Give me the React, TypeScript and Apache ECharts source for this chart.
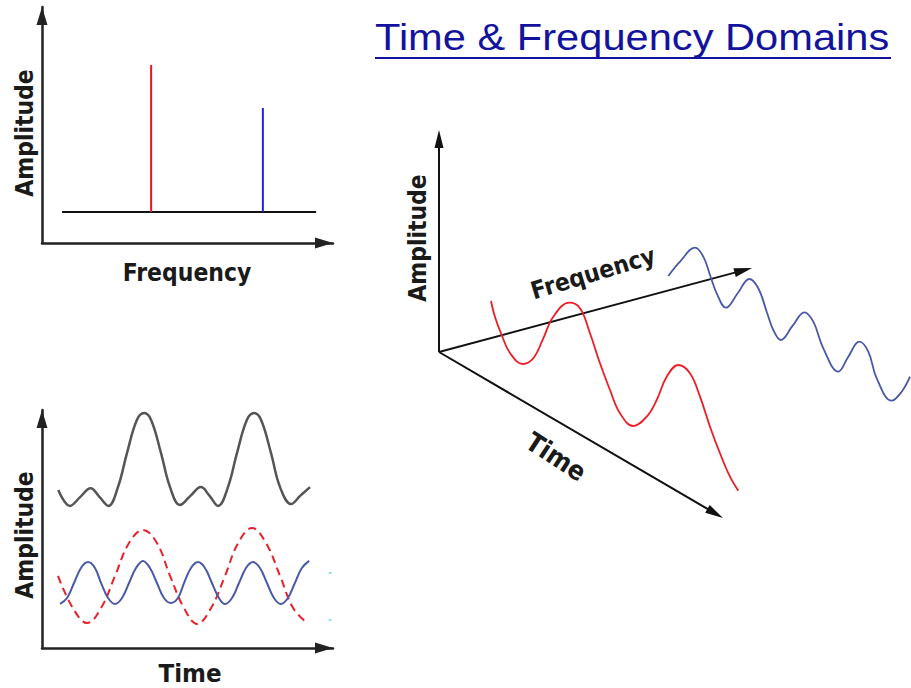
import React, { useEffect, useRef } from "react";
import * as echarts from "echarts";

// ---------- texts ----------
const TITLE = "Time & Frequency Domains";
const LABEL_AMPLITUDE = "Amplitude";
const LABEL_FREQUENCY = "Frequency";
const LABEL_TIME = "Time";

// ---------- panel 1: spectrum (frequency domain) ----------
const spectrumFreq = [3.75, 7.59];
const spectrumAmp = [7.54, 5.72];
const spectrumColors = ["#e8161e", "#2222e0"];
const baselineLevel = 1.31;
const baselineFreqRange = [0.69, 9.42];

// ---------- panel 2: time domain ----------
const sumTime = [0.56, 0.96, 1.31, 1.67, 1.98, 2.28, 2.61, 2.92, 3.26, 3.51, 3.75, 4.09, 4.4, 4.74, 5.1, 5.46, 5.76, 6.05, 6.39, 6.7, 7.04, 7.29, 7.53, 7.87, 8.18, 8.56, 8.87, 9.21];
const sumAmp = [6.64, 5.97, 6.34, 6.71, 6.34, 5.97, 6.76, 8.19, 9.58, 9.87, 9.58, 8.19, 6.76, 6.01, 6.39, 6.76, 6.39, 5.97, 6.76, 8.19, 9.58, 9.87, 9.58, 8.19, 6.76, 6.05, 6.39, 6.76];

const lowTime = [0.55, 1.06, 1.55, 2.03, 2.51, 2.99, 3.47, 3.95, 4.4, 4.88, 5.33, 5.81, 6.29, 6.74, 7.22, 7.7, 8.18, 8.63, 9.11];
const lowAmp = [3.03, 1.68, 1.05, 1.68, 3.03, 4.41, 4.96, 4.41, 3.03, 1.68, 1.01, 1.68, 3.03, 4.41, 5.04, 4.41, 3.03, 1.68, 1.05];

const highTime = [0.62, 0.86, 1.1, 1.34, 1.58, 1.82, 2.03, 2.27, 2.51, 2.75, 2.99, 3.23, 3.47, 3.71, 3.95, 4.19, 4.43, 4.67, 4.88, 5.12, 5.36, 5.6, 5.84, 6.08, 6.29, 6.53, 6.77, 7.01, 7.25, 7.49, 7.73, 7.97, 8.21, 8.45, 8.69, 8.93, 9.18];
const highAmp = [1.85, 2.1, 2.73, 3.36, 3.61, 3.36, 2.73, 2.1, 1.85, 2.1, 2.73, 3.36, 3.66, 3.36, 2.73, 2.1, 1.89, 2.1, 2.73, 3.36, 3.61, 3.36, 2.73, 2.1, 1.85, 2.1, 2.73, 3.36, 3.61, 3.36, 2.73, 2.1, 1.85, 2.1, 2.73, 3.36, 3.66];

const specksTime = [9.9, 9.9];
const specksAmp = [3.15, 1.18];

// ---------- panel 3: 3D sketch ----------
const origin3d = [5.6, 42];
const axisTips3d = [
  [5.6, 97.5], // amplitude
  [68.2, 63.0], // frequency
  [62.4, 0.5], // time
];
const redWaveX = [16.0, 16.8, 18.14, 19.8, 22.34, 24.46, 26.46, 28.46, 31.66, 33.8, 35.8, 37.8, 39.8, 41.8, 44.46, 47.14, 49.14, 51.14, 53.46, 55.8, 57.8, 59.8, 61.8, 63.8, 65.46];
const redWaveY = [54.75, 50.75, 46.25, 41.75, 39.0, 40.43, 45.43, 50.83, 54.33, 52.93, 46.68, 39.18, 32.5, 26.68, 23.5, 25.83, 30.0, 35.83, 38.75, 36.68, 30.83, 23.33, 16.68, 10.83, 7.33];
const blueWaveX = [51.46, 53.8, 56.8, 58.46, 59.8, 61.14, 63.0, 65.34, 67.66, 69.46, 71.14, 72.46, 73.94, 76.34, 78.66, 80.46, 82.46, 85.46, 87.46, 89.66, 91.46, 93.14, 96.14, 98.14, 99.8];
const blueWaveY = [61.0, 64.58, 68.08, 65.83, 61.25, 56.68, 53.08, 56.68, 60.25, 57.93, 52.08, 47.5, 45.0, 48.58, 51.93, 49.58, 42.93, 37.08, 40.83, 44.58, 42.08, 35.43, 29.83, 32.08, 35.83];

const zip = (a: number[], b: number[]) => a.map((v, i) => [v, b[i]]);

const AXIS_COLOR = "#222222";
const LABEL_FONT = { fontFamily: "'DejaVu Sans', sans-serif", fontWeight: "bold" as const, fontSize: 22, fill: "#1a1a1a" };

const arrowAxisLine = {
  show: true,
  onZero: false,
  symbol: ["none", "triangle"],
  symbolSize: [11, 18],
  symbolOffset: [0, -9],
  lineStyle: { color: AXIS_COLOR, width: 2.5 },
};

const plainAxis = (gridIndex: number, max: number) => ({
  gridIndex,
  type: "value" as const,
  min: 0,
  max,
  axisLine: arrowAxisLine,
  axisTick: { show: false },
  axisLabel: { show: false },
  splitLine: { show: false },
});

const label = (text: string, x: number, y: number, rotation = 0, fontSize = 22) => ({
  type: "text",
  x,
  y,
  rotation,
  scaleY: 1.1,
  style: { text, ...LABEL_FONT, fontSize, align: "center", verticalAlign: "middle" },
});

export default function App() {
  const ref = useRef<HTMLDivElement>(null);

  useEffect(() => {
    if (!ref.current) return;
    const chart = echarts.init(ref.current, null, { renderer: "svg" });

    const spikeSeries = spectrumFreq.map((f, i) => ({
      type: "line",
      xAxisIndex: 0,
      yAxisIndex: 0,
      data: [
        [f, baselineLevel],
        [f, spectrumAmp[i]],
      ],
      symbol: "none",
      lineStyle: { color: spectrumColors[i], width: 2 },
      z: 3,
    }));

    const option: any = {
      animation: false,
      backgroundColor: "#ffffff",
      grid: [
        { left: 42, top: 7, width: 291, height: 236 },
        { left: 42, top: 410, width: 291, height: 238 },
        { left: 411, top: 120, width: 500, height: 400 },
      ],
      xAxis: [
        plainAxis(0, 10),
        plainAxis(1, 10),
        { gridIndex: 2, type: "value", min: 0, max: 100, show: false },
      ],
      yAxis: [
        plainAxis(0, 10),
        plainAxis(1, 10),
        { gridIndex: 2, type: "value", min: 0, max: 100, show: false },
      ],
      series: [
        {
          type: "line",
          xAxisIndex: 0,
          yAxisIndex: 0,
          data: baselineFreqRange.map((f) => [f, baselineLevel]),
          symbol: "none",
          lineStyle: { color: "#111111", width: 2 },
          z: 2,
        },
        ...spikeSeries,
        {
          type: "line",
          xAxisIndex: 1,
          yAxisIndex: 1,
          data: zip(sumTime, sumAmp),
          symbol: "none",
          smooth: 0.4,
          lineStyle: { color: "#555555", width: 2.5 },
        },
        {
          type: "line",
          xAxisIndex: 1,
          yAxisIndex: 1,
          data: zip(lowTime, lowAmp),
          symbol: "none",
          smooth: 0.4,
          lineStyle: { color: "#e8202a", width: 2, type: [8, 5] },
        },
        {
          type: "line",
          xAxisIndex: 1,
          yAxisIndex: 1,
          data: zip(highTime, highAmp),
          symbol: "none",
          smooth: 0.4,
          lineStyle: { color: "#4a58a8", width: 2 },
        },
        {
          type: "scatter",
          xAxisIndex: 1,
          yAxisIndex: 1,
          data: zip(specksTime, specksAmp),
          symbol: "rect",
          symbolSize: [3, 2],
          itemStyle: { color: "#7fd6e6" },
          clip: false,
        },
        {
          type: "custom",
          xAxisIndex: 2,
          yAxisIndex: 2,
          coordinateSystem: "cartesian2d",
          encode: { x: [0, 2], y: [1, 3] },
          data: axisTips3d.map((t) => [origin3d[0], origin3d[1], t[0], t[1]]),
          renderItem: (_params: any, api: any) => {
            const p0 = api.coord([api.value(0), api.value(1)]);
            const p1 = api.coord([api.value(2), api.value(3)]);
            const dx = p1[0] - p0[0];
            const dy = p1[1] - p0[1];
            const len = Math.hypot(dx, dy) || 1;
            const ux = dx / len;
            const uy = dy / len;
            const L = 18;
            const W = 4.5;
            const bx = p1[0] - ux * L;
            const by = p1[1] - uy * L;
            return {
              type: "group",
              children: [
                {
                  type: "line",
                  shape: { x1: p0[0], y1: p0[1], x2: bx + ux * 3, y2: by + uy * 3 },
                  style: { stroke: "#111111", lineWidth: 2 },
                },
                {
                  type: "polygon",
                  shape: {
                    points: [
                      [p1[0], p1[1]],
                      [bx - uy * W, by + ux * W],
                      [bx + uy * W, by - ux * W],
                    ],
                  },
                  style: { fill: "#111111" },
                },
              ],
            };
          },
        },
        {
          type: "line",
          xAxisIndex: 2,
          yAxisIndex: 2,
          data: zip(redWaveX, redWaveY),
          symbol: "none",
          smooth: 0.4,
          lineStyle: { color: "#ee1c24", width: 1.8 },
        },
        {
          type: "line",
          xAxisIndex: 2,
          yAxisIndex: 2,
          data: zip(blueWaveX, blueWaveY),
          symbol: "none",
          smooth: 0.4,
          lineStyle: { color: "#4a58a8", width: 1.8 },
        },
      ],
      graphic: [
        {
          type: "text",
          x: 375,
          y: 36.5,
          scaleX: 1.125,
          style: {
            text: TITLE,
            fontSize: 37,
            fontFamily: "'Liberation Sans', Arial, sans-serif",
            fill: "#12129e",
            align: "left",
            verticalAlign: "middle",
          },
        },
        {
          type: "line",
          shape: { x1: 375, y1: 58, x2: 891, y2: 58 },
          style: { stroke: "#12129e", lineWidth: 2 },
        },
        label(LABEL_AMPLITUDE, 25, 133, Math.PI / 2),
        label(LABEL_FREQUENCY, 187, 273),
        label(LABEL_AMPLITUDE, 25, 535, Math.PI / 2),
        label(LABEL_TIME, 190, 674, 0, 23),
        label(LABEL_AMPLITUDE, 418, 238, Math.PI / 2),
        label(LABEL_FREQUENCY, 593, 273, 0.29),
        label(LABEL_TIME, 556, 457, -0.58, 24),
      ],
    };

    chart.setOption(option);
    return () => chart.dispose();
  }, []);

  return (
    <div
      ref={ref}
      style={{ position: "fixed", left: 0, top: 0, width: 911, height: 688, background: "#fff" }}
    />
  );
}
